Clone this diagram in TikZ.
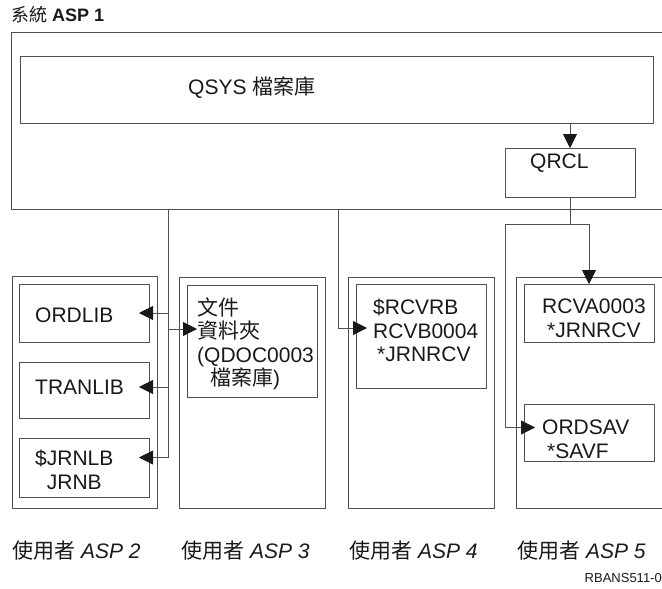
\documentclass[tikz,border=0pt]{standalone}
\usepackage{fontspec}
\setmainfont{Liberation Sans}
\newfontfamily\cjk{Noto Sans CJK TC}
\usetikzlibrary{arrows.meta}
\definecolor{linec}{RGB}{80,80,80}
\tikzset{
  box/.style={draw=linec, line width=0.8pt, inner sep=0pt, outer sep=0pt, anchor=north west},
  txt/.style={font=\fontsize{21}{23.5}\selectfont, inner sep=0pt, align=left, text=black!90},
  link/.style={draw=linec, line width=0.8pt, -{Triangle[length=14pt,width=14pt,color=black!90]}},
  wire/.style={draw=linec, line width=0.8pt}
}
\begin{document}
\begin{tikzpicture}[x=1pt,y=-1pt]
\useasboundingbox (0,0) rectangle (662,589);
% Systeme ASP 1
\node[txt, font=\fontsize{18}{20}\selectfont, anchor=west] (titre) at (11,15) {{\cjk 系統} \textbf{ASP 1}};
\node[box, minimum width=655pt, minimum height=177pt] (asp1) at (11,32) {};
\node[box, minimum width=633pt, minimum height=67pt] (qsys) at (20,56) {};
\node[txt, anchor=west] (qsystxt) at (188,88) {QSYS {\cjk 檔案庫}};
\node[box, minimum width=130pt, minimum height=49pt] (qrcl) at (505,148) {};
\node[txt, anchor=west] (qrcltxt) at (530,163) {QRCL};
\draw[link] (qsys.south -| qrcl.north) -- (qrcl.north);
% ASP utilisateur
\node[box, minimum width=145pt, minimum height=232pt] (asp2) at (12,276) {};
\node[box, minimum width=146pt, minimum height=231pt] (asp3) at (179,277) {};
\node[box, minimum width=146pt, minimum height=231pt] (asp4) at (348,277) {};
\node[box, minimum width=152pt, minimum height=231pt] (asp5) at (516,277) {};
\node[box, minimum width=130pt, minimum height=58pt] (ordlib) at (19,284) {};
\node[box, minimum width=130pt, minimum height=56pt] (tranlib) at (19,362) {};
\node[box, minimum width=130pt, minimum height=59pt] (jrnlb) at (19,438) {};
\node[box, minimum width=130pt, minimum height=112pt] (doc) at (187,285) {};
\node[box, minimum width=130pt, minimum height=104pt] (rcvb) at (356,284) {};
\node[box, minimum width=130pt, minimum height=58pt] (rcva) at (524,284) {};
\node[box, minimum width=130pt, minimum height=57pt] (ordsav) at (524,404) {};
\node[txt, anchor=west] (ordlibtxt) at (35,315) {ORDLIB};
\node[txt, anchor=west] (tranlibtxt) at (35,387) {TRANLIB};
% base = baseline of the last line
\node[txt, anchor=base west, align=center] (jrnlbtxt) at (35,489) {\$JRNLB\\JRNB};
\node[txt, anchor=base west] (doctxt) at (197,385.5) {{\cjk 文件}\\{\cjk 資料夾}\\(QDOC0003\\\hspace{13pt}{\cjk 檔案庫})};
\node[txt, anchor=base west] (rcvbtxt) at (373,361.5) {\$RCVRB\\RCVB0004\\\hspace{4pt}*JRNRCV};
\node[txt, anchor=base west] (rcvatxt) at (542,337) {RCVA0003\\\hspace{5pt}*JRNRCV};
\node[txt, anchor=base west] (ordsavtxt) at (542,458) {ORDSAV\\\hspace{5pt}*SAVF};
% liaisons
\coordinate (b2) at (168,209);
\coordinate (b4) at (338,209);
\draw[link] (b2) |- ([xshift=-10pt]ordlib.east);
\draw[link] (b2) |- ([xshift=-10pt,yshift=3pt]tranlib.east);
\draw[link] (b2) |- ([xshift=-10pt,yshift=10pt]jrnlb.east);
\draw[link] (b2) |- ([xshift=10pt,yshift=12pt]doc.west);
\draw[link] (b4) |- ([xshift=11pt,yshift=8pt]rcvb.west);
\draw[wire] (qrcl.south) -- (qrcl.south |- 0,224) coordinate (b5);
\draw[link] (b5) -| (rcva.north);
\draw[link] (b5) -- (505,224) |- ([xshift=11pt,yshift=5pt]ordsav.west);
% etiquettes
\node[txt, anchor=west] (l2) at (12,551) {{\cjk 使用者} \textit{ASP 2}};
\node[txt, anchor=west] (l3) at (181,551) {{\cjk 使用者} \textit{ASP 3}};
\node[txt, anchor=west] (l4) at (349,551) {{\cjk 使用者} \textit{ASP 4}};
\node[txt, anchor=west] (l5) at (517,551) {{\cjk 使用者} \textit{ASP 5}};
\node[txt, font=\fontsize{13}{15}\selectfont, anchor=east] (ref) at (662,578) {RBANS511-0};
\end{tikzpicture}
\end{document}
